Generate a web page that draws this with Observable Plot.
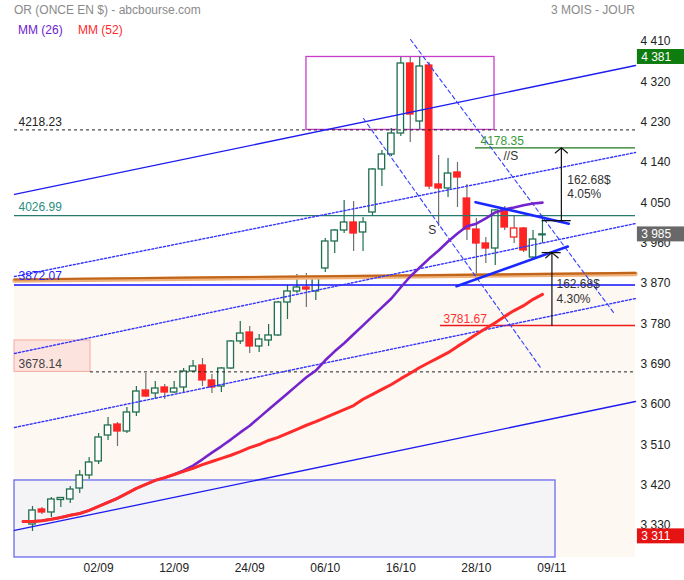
<!DOCTYPE html>
<html><head><meta charset="utf-8">
<script src="https://cdn.jsdelivr.net/npm/d3@7"></script>
<script src="https://cdn.jsdelivr.net/npm/@observablehq/plot@0.6"></script>
<style>
body{margin:0;background:#fff;font-family:"Liberation Sans",Arial,sans-serif;}
#wrap{position:relative;width:684px;height:580px;}
.hd{position:absolute;font-size:12px;white-space:nowrap;line-height:14px;}
svg{overflow:visible;}
</style></head><body>
<div id="wrap">
<div class="hd" style="left:14px;top:3px;color:#8a8a8a">OR (ONCE EN $) - abcbourse.com</div>
<div class="hd" style="right:49px;top:3px;color:#8a8a8a">3 MOIS - JOUR</div>
<div class="hd" style="left:18px;top:23px;color:#6c22d0">MM (26)</div>
<div class="hd" style="left:78px;top:23px;color:#ff2a2a">MM (52)</div>
</div>
<script>
// ---- candles (bar index 0..54) ----
const open = [3337.5,3371.0,3364.3,3392.2,3393.3,3417.8,3446.9,3478.1,3536.1,3560.7,
3545.1,3587.5,3636.6,3629.9,3643.3,3632.1,3643.3,3679.0,3692.4,3658.9,
3645.5,3685.7,3746.0,3766.0,3734.8,3748.2,3759.4,3833.0,3857.6,3866.5,
3857.6,3908.9,3969.2,3993.7,4011.6,3989.3,4033.9,4129.9,4163.4,4210.2,
4366.5,4237.0,4362.0,4096.4,4087.5,4123.2,4065.1,3995.9,3964.7,3953.5,
4038.4,3978.1,3998.2,3933.4,3983.0];
const high = [3377.7,3375.4,3397.7,3397.7,3422.3,3458.0,3487.0,3540.6,3576.3,3565.1,
3598.6,3645.5,3674.5,3656.7,3650.0,3656.7,3685.7,3703.5,3708.0,3672.3,
3688.0,3748.2,3790.6,3779.4,3761.6,3783.9,3835.2,3871.0,3895.5,3897.7,
3888.8,3975.9,3996.0,4060.7,4058.4,4022.7,4132.1,4172.3,4221.4,4379.9,
4379.9,4381.0,4368.7,4161.1,4154.4,4145.5,4096.4,4020.5,3978.1,4040.6,
4047.3,4027.2,4000.4,3993.7,4020.5];
const low = [3321.9,3359.8,3353.1,3375.4,3384.4,3406.7,3437.9,3471.4,3525.0,3511.6,
3540.6,3578.5,3621.0,3616.5,3616.5,3629.9,3632.1,3676.8,3645.5,3629.9,
3632.1,3683.4,3739.3,3719.2,3721.4,3734.8,3757.1,3795.1,3853.1,3821.8,
3837.5,3900.0,3942.4,3987.0,3946.8,3946.8,4027.2,4091.9,4158.9,4203.5,
4190.1,4219.2,4085.2,4002.6,4067.4,4045.1,3971.4,3884.3,3920.1,3915.6,
3993.7,3964.7,3944.6,3926.8,3964.7];
const close = [3368.7,3364.3,3393.3,3396.6,3415.6,3446.9,3475.9,3531.7,3558.5,3545.1,
3587.5,3634.3,3623.2,3641.0,3632.1,3641.0,3679.0,3690.2,3658.9,3643.3,
3685.7,3746.0,3763.8,3734.8,3750.4,3759.4,3833.0,3857.6,3866.5,3862.0,
3886.6,3969.2,3993.7,4011.6,3987.0,4011.6,4129.9,4163.4,4210.2,4366.5,
4252.6,4359.8,4091.9,4087.5,4120.9,4112.0,3995.9,3964.7,3953.5,4038.4,
4000.4,3998.2,3949.1,3973.6,3985.0];

// ---- moving averages (bar index -1..54) ----
const maStart = -1;
const mm26 = [3344,3344,3346,3349,3353,3358,3362,3369,3378,3387,3396,3407,3418,3427,3436,3442,
3449,3458,3469,3483,3498,3512,3527,3543,3558,3576,3594,3612,3630,3648,3666,3681,3704,3724,3742,3762,
3782,3802,3822,3842,3867,3891,3911,3931,3949,3969,3987,4003,4009,4021,4034,4041,4045,4050,4054,4056];
const mm52 = [3344,3344,3346,3349,3353,3358,3362,3369,3378,3387,3396,3407,3418,3427,3436,3442,
3449,3456,3463,3471,3478,3485,3492,3500,3509,3516,3525,3532,3541,3550,3559,3567,3576,3585,3594,3603,
3617,3628,3639,3650,3663,3675,3688,3699,3710,3721,3735,3748,3762,3775,3788,3802,3815,3826,3840,3851];

// ---- axes ----
const xTickIdx = [7,15,23,31,39,47,55];
const xTickLabels = ["02/09","12/09","24/09","06/10","16/10","28/10","09/11"];
const yTicks = [4410,4320,4230,4140,4050,3960,3870,3780,3690,3600,3510,3420,3330];

// ---- levels ----
const levelTop = 4218.23, levelTeal = 4026.99, levelBlue = 3872.07, levelLow = 3678.14;
const levelRed = 3781.67, levelGreen = 4178.35;
const peakHigh = 4381, lastPrice = 3985, periodLow = 3311;
const moveAmount = 162.68, movePct1 = "4.05%", movePct2 = "4.30%";

// ---- drawn trend lines: [bar index, price] ----
const channelUpper = [[-1.906,4074.1],[63.85,4362.0]];
const channelLower = [[-1.906,3324.1],[63.85,3612.0]];
const dottedUpper = [[-1.906,3891.0],[63.85,4167.8]];
const dottedMid = [[-1.906,3719.2],[63.85,4009.3]];
const dottedLow = [[-1.906,3554.0],[63.85,3841.9]];
const dashedA = [[40.03,4420.0],[61.52,3810.7]];
const dashedB = [[35.05,4243.7],[53.79,3687.9]];
const triUpper = [[46.91,4056.9],[56.79,4008.7]];
const triLower = [[44.90,3869.4],[56.68,3958.0]];
const orangeLine = [[-1.906,3884.3],[63.85,3898.9]];

// ---- zones: [x1,x2,y1,y2] ----
const greyZone = [-1.906,55.38,3263.8,3435.7];
const pinkZone = [-1.906,6.14,3678.14,3748.2];
const peakZone = [29.01,48.92,4218.23,4381];

const X0 = -1.906, X1 = 63.85, Y0 = 3263.8, Y1 = 4431.2;
const fmt = d => d3.format(",")(d).replace(/,/g, " ");
const bars = close.map((c,i)=>({i,o:open[i],h:high[i],l:low[i],c,
  up: i===0 || c >= close[i-1], hollow: c >= open[i]}));
const GREEN = "#1f6e4e", RED = "#ff2424", WICKR = "#707070";
const bw = 0.34;
const pts = (arr) => arr.map(([x,y])=>({x,y}));
const zone = (z) => [{x1:z[0],x2:z[1],y1:z[2],y2:z[3]}];
const ma = (arr) => arr.map((v,k)=>({x:maStart+k,y:v}));
const F = '"Liberation Sans", Arial, sans-serif';

const chart = Plot.plot({
  width:684, height:580, marginLeft:14, marginRight:49, marginTop:34, marginBottom:23,
  x:{domain:[X0,X1]}, y:{domain:[Y0,Y1]},
  style:{fontFamily:F, fontSize:"12px", color:"#222", background:"transparent", overflow:"visible"},
  marks:[
    Plot.rect([{x1:X0,x2:X1,y1:Y0,y2:levelBlue}],{x1:"x1",x2:"x2",y1:"y1",y2:"y2",fill:"#fef8f2"}),
    Plot.rect(zone(greyZone),{x1:"x1",x2:"x2",y1:"y1",y2:"y2",fill:"#f4f3f5",stroke:"#6b6bef",strokeWidth:1.3}),
    Plot.rect(zone(pinkZone),{x1:"x1",x2:"x2",y1:"y1",y2:"y2",fill:"#fde3de",stroke:"#f3a9a1",strokeWidth:1}),
    Plot.rect(zone(peakZone),{x1:"x1",x2:"x2",y1:"y1",y2:"y2",fill:"none",stroke:"#c93cc9",strokeWidth:1.3}),
    // candles
    Plot.ruleX(bars,{x:"i",y1:"l",y2:"h",stroke:d=>d.up?GREEN:WICKR,strokeWidth:1.2}),
    Plot.rect(bars,{x1:d=>d.i-bw,x2:d=>d.i+bw,y1:"o",y2:"c",
      fill:d=>d.hollow?"#ffffff":(d.up?GREEN:RED), stroke:d=>d.up?GREEN:RED, strokeWidth:1.3}),
    // horizontal levels
    Plot.ruleY([levelTop],{x1:X0,x2:X1,stroke:"#222",strokeDasharray:"3,3",strokeWidth:1}),
    Plot.ruleY([levelLow],{x1:pinkZone[1],x2:X1,stroke:"#222",strokeDasharray:"3,3",strokeWidth:1}),
    Plot.ruleY([levelTeal],{x1:X0,x2:X1,stroke:"#267a6e",strokeWidth:1.3}),
    Plot.ruleY([levelBlue],{x1:X0,x2:X1,stroke:"#1010ff",strokeWidth:1.3}),
    Plot.ruleY([levelRed],{x1:43.2,x2:X1,stroke:"#ee1a1a",strokeWidth:1.3}),
    Plot.ruleY([levelGreen],{x1:46.91,x2:X1,stroke:"#1f7a1f",strokeWidth:1.3}),
    Plot.line(pts(orangeLine),{x:"x",y:"y",stroke:"#f0b27a",strokeWidth:4.5,dy:1}),
    Plot.line(pts(orangeLine),{x:"x",y:"y",stroke:"#c0661c",strokeWidth:2.2}),
    // channels
    Plot.line(pts(channelUpper),{x:"x",y:"y",stroke:"#1c1cf0",strokeWidth:1.3}),
    Plot.line(pts(channelLower),{x:"x",y:"y",stroke:"#1c1cf0",strokeWidth:1.3}),
    Plot.line(pts(dottedUpper),{x:"x",y:"y",stroke:"#3434ff",strokeWidth:1.4,strokeDasharray:"2,2"}),
    Plot.line(pts(dottedMid),{x:"x",y:"y",stroke:"#3434ff",strokeWidth:1.4,strokeDasharray:"2,2"}),
    Plot.line(pts(dottedLow),{x:"x",y:"y",stroke:"#3434ff",strokeWidth:1.4,strokeDasharray:"2,2"}),
    Plot.line(pts(dashedA),{x:"x",y:"y",stroke:"#3040ff",strokeWidth:1.1,strokeDasharray:"4,3"}),
    Plot.line(pts(dashedB),{x:"x",y:"y",stroke:"#3040ff",strokeWidth:1.1,strokeDasharray:"4,3"}),
    // moving averages
    Plot.line(ma(mm26),{x:"x",y:"y",stroke:"#7424cc",strokeWidth:2.6,strokeLinejoin:"round"}),
    Plot.line(ma(mm52),{x:"x",y:"y",stroke:"#ff2a2a",strokeWidth:3,strokeLinejoin:"round"}),
    // triangle
    Plot.line(pts(triUpper),{x:"x",y:"y",stroke:"#1a2aff",strokeWidth:2.6}),
    Plot.line(pts(triLower),{x:"x",y:"y",stroke:"#1a2aff",strokeWidth:2.6}),
    // measured moves
    Plot.ruleY([levelGreen - moveAmount],{x1:53.97,x2:57.04,stroke:"#111",strokeWidth:1.3}),
    Plot.arrow([{a:levelGreen - moveAmount,b:levelGreen}],{x1:56,x2:56,y1:"a",y2:"b",stroke:"#111",strokeWidth:1.2,headAngle:100,headLength:10,insetStart:0,insetEnd:0}),
    Plot.ruleY([levelRed + moveAmount],{x1:53.97,x2:55.98,stroke:"#111",strokeWidth:1.3}),
    Plot.arrow([{a:levelRed,b:levelRed + moveAmount}],{x1:55,x2:55,y1:"a",y2:"b",stroke:"#111",strokeWidth:1.2,headAngle:100,headLength:10,insetStart:0,insetEnd:0}),
    Plot.text([{x:56.62,y:4105.3,t:moveAmount.toFixed(2)+"$"},{x:56.62,y:4074.1,t:movePct1},
               {x:55.48,y:3873.2,t:moveAmount.toFixed(2)+"$"},{x:55.48,y:3839.7,t:movePct2}],
      {x:"x",y:"y",text:"t",textAnchor:"start",fill:"#333",fontSize:12,fontFamily:F}),
    // level labels
    Plot.text([levelTop],{x:-1.48,y:d=>d,text:d=>d.toFixed(2),textAnchor:"start",dy:-8,fill:"#222",fontSize:12,fontFamily:F}),
    Plot.text([levelTeal],{x:-1.48,y:d=>d,text:d=>d.toFixed(2),textAnchor:"start",dy:-8,fill:"#2a8f80",fontSize:12,fontFamily:F}),
    Plot.text([levelBlue],{x:-1.48,y:d=>d,text:d=>d.toFixed(2),textAnchor:"start",dy:-9,fill:"#2424ff",fontSize:12,fontFamily:F}),
    Plot.text([levelLow],{x:-1.48,y:d=>d,text:d=>d.toFixed(2),textAnchor:"start",dy:-8,fill:"#444",fontSize:12,fontFamily:F}),
    Plot.text([levelRed],{x:43.52,y:d=>d,text:d=>d.toFixed(2),textAnchor:"start",dy:-6.5,fill:"#ff3030",fontSize:12,fontFamily:F}),
    Plot.text([levelGreen],{x:47.44,y:d=>d,text:d=>d.toFixed(2),textAnchor:"start",dy:-7,fill:"#3a9a3a",fontSize:12,fontFamily:F}),
    Plot.text([levelGreen],{x:49.87,y:d=>d,text:()=>"//S",textAnchor:"start",dy:8,fill:"#333",fontSize:12,fontFamily:F}),
    Plot.text([3993.7],{x:42.32,y:d=>d,text:()=>"S",textAnchor:"middle",fill:"#333",fontSize:12,fontFamily:F}),
    // axes
    Plot.axisY(yTicks,{anchor:"right",tickSize:0,tickPadding:5,tickFormat:fmt,dy:-2.5,fontSize:12,color:"#222"}),
    Plot.axisX(xTickIdx,{anchor:"bottom",tickSize:0,tickPadding:6,tickFormat:d=>xTickLabels[xTickIdx.indexOf(d)],fontSize:12,color:"#222"}),
    // right value boxes
    Plot.rect([{v:peakHigh,c:"#0e7c0e"},{v:lastPrice,c:"#686868"},{v:periodLow,c:"#e41414"}],
      {x1:64.05,x2:69.04,y1:d=>d.v-16.7,y2:d=>d.v+16.7,fill:"c"}),
    Plot.text([peakHigh,lastPrice,periodLow],{x:64.45,y:d=>d,text:fmt,textAnchor:"start",fill:"#fff",fontSize:12,fontFamily:F})
  ]
});
document.getElementById("wrap").prepend(chart);
</script>
</body></html>
